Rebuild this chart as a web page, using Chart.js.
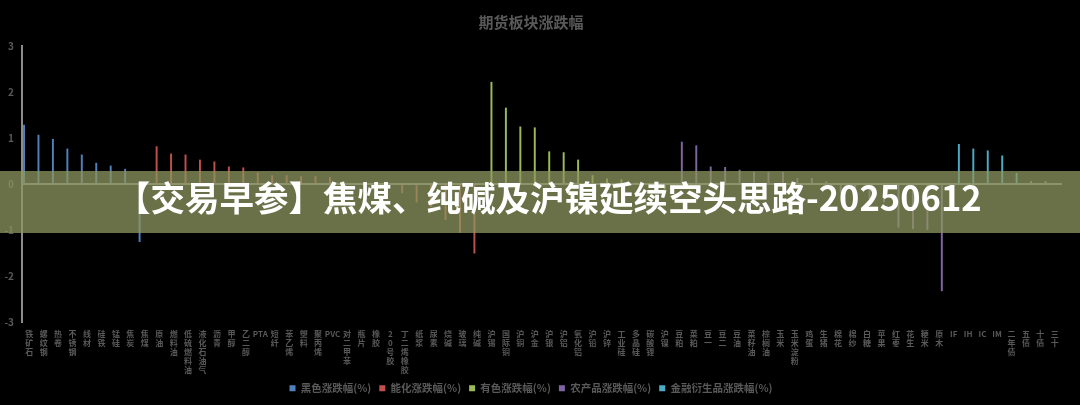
<!DOCTYPE html>
<html lang="zh-CN">
<head>
<meta charset="utf-8">
<title>期货板块涨跌幅</title>
<script src="https://cdn.jsdelivr.net/npm/chart.js@4.4.1/dist/chart.umd.min.js"></script>
<style>
  html, body { margin: 0; padding: 0; background: #000; }
  #wrap { position: relative; width: 1080px; height: 405px; }
  #banner { position: absolute; left: 0; top: 171px; width: 1080px; height: 62px; background: rgba(141, 151, 96, 0.75); }
  #banner span { position: absolute; left: 116px; top: 0; line-height: 62px; font: 700 34.5px "Noto Sans CJK SC"; color: #fff; white-space: nowrap; }
</style>
</head>
<body>
<div id="wrap">
  <canvas id="chart" width="1080" height="405"></canvas>
  <div id="banner"><span>【交易早参】焦煤、纯碱及沪镍延续空头思路-20250612</span></div>
</div>
<script>
// chart data
const chartTitle = '期货板块涨跌幅';
const seriesNames = ['黑色涨跌幅(%)', '能化涨跌幅(%)', '有色涨跌幅(%)', '农产品涨跌幅(%)', '金融衍生品涨跌幅(%)'];
const seriesColors = ['#4F81BD', '#C0504D', '#9BBB59', '#8064A2', '#4BACC6'];

const blackNames = ['铁矿石', '螺纹钢', '热卷', '不锈钢', '线材', '硅铁', '锰硅', '焦炭', '焦煤'];
const blackValues = [1.29, 1.07, 0.98, 0.77, 0.64, 0.46, 0.40, 0.33, -1.26];

const chemNames = ['原油', '燃料油', '低硫燃料油', '液化石油气', '沥青', '甲醇', '乙二醇', 'PTA', '短纤', '苯乙烯', '塑料', '聚丙烯',
  'PVC', '对二甲苯', '瓶片', '橡胶', '20号胶', '丁二烯橡胶', '纸浆', '尿素', '烧碱', '玻璃', '纯碱'];
const chemValues = [0.82, 0.66, 0.64, 0.53, 0.49, 0.38, 0.36, 0.25, 0.19, 0.19, 0.17, 0.17,
  0.15, 0.05, 0.02, -0.02, -0.08, -0.20, -0.40, -0.50, -0.78, -1.06, -1.51];

const metalNames = ['沪锡', '国际铜', '沪铜', '沪金', '沪银', '沪铝', '氧化铝', '沪铅', '沪锌', '工业硅', '多晶硅', '碳酸锂', '沪镍'];
const metalValues = [2.22, 1.66, 1.25, 1.23, 0.71, 0.69, 0.53, 0.19, 0.12, 0.10, 0.03, -0.05, -0.12];

const agriNames = ['豆粕', '菜粕', '豆一', '豆二', '豆油', '菜籽油', '棕榈油', '玉米', '玉米淀粉', '鸡蛋', '生猪', '棉花',
  '棉纱', '白糖', '苹果', '红枣', '花生', '粳米', '原木'];
const agriValues = [0.92, 0.84, 0.38, 0.37, 0.31, 0.27, 0.26, 0.26, 0.13, 0.13, 0.06, -0.20,
  -0.28, -0.33, -0.40, -0.95, -0.98, -1.00, -2.33];

const finNames = ['IF', 'IH', 'IC', 'IM', '二年债', '五债', '十债', '三十'];
const finValues = [0.87, 0.77, 0.73, 0.62, 0.24, 0.06, 0.06, 0.01];

const yMin = -3, yMax = 3, yStep = 1;

// build the table chart.js wants
const groups = [
  [blackNames, blackValues],
  [chemNames, chemValues],
  [metalNames, metalValues],
  [agriNames, agriValues],
  [finNames, finValues]
];
const allNames = groups.flatMap(g => g[0]);
// chinese names are stacked one char per line, pure latin codes stay on one line
const labels = allNames.map(n => /^[\x00-\x7F]+$/.test(n) ? n : Array.from(n));

let offset = 0;
const datasets = groups.map((g, k) => {
  const data = allNames.map(() => null);
  g[1].forEach((v, i) => { data[offset + i] = v; });
  offset += g[1].length;
  return {
    label: seriesNames[k],
    data: data,
    backgroundColor: seriesColors[k],
    borderWidth: 0,
    categoryPercentage: 0.9,
    barPercentage: 0.75
  };
});

const grey = '#595959';
const fam = '"Noto Sans CJK SC", "Noto Sans", sans-serif';

new Chart(document.getElementById('chart'), {
  type: 'bar',
  data: { labels: labels, datasets: datasets },
  options: {
    responsive: false,
    animation: false,
    layout: { padding: { left: 0, right: 18, top: 0, bottom: 1.5 } },
    plugins: {
      title: {
        display: true, text: chartTitle, color: grey,
        font: { size: 15, weight: 'bold', family: fam },
        padding: { top: 13, bottom: 15 }
      },
      legend: {
        position: 'bottom',
        labels: { boxWidth: 6, boxHeight: 6, padding: 8, color: grey, font: { size: 10.5, weight: 'bold', family: fam } }
      },
      tooltip: { enabled: false }
    },
    scales: {
      x: {
        grid: { display: false, drawTicks: false },
        border: { display: false },
        ticks: {
          autoSkip: false, maxRotation: 0, minRotation: 0, padding: 7, color: grey,
          font: { size: 8, lineHeight: 1.125, weight: 'bold', family: fam }
        },
        afterFit: s => { s.height = 53; }
      },
      y: {
        min: yMin, max: yMax,
        ticks: { stepSize: yStep, padding: 8, color: grey, font: { size: 10, weight: 'bold', family: fam } },
        grid: { color: c => c.tick.value === 0 ? '#8c8c8c' : 'transparent', lineWidth: 2, drawTicks: false },
        border: { display: true, color: '#8c8c8c', width: 2 },
        afterFit: s => { s.width = 22; }
      }
    }
  }
});
</script>
</body>
</html>
